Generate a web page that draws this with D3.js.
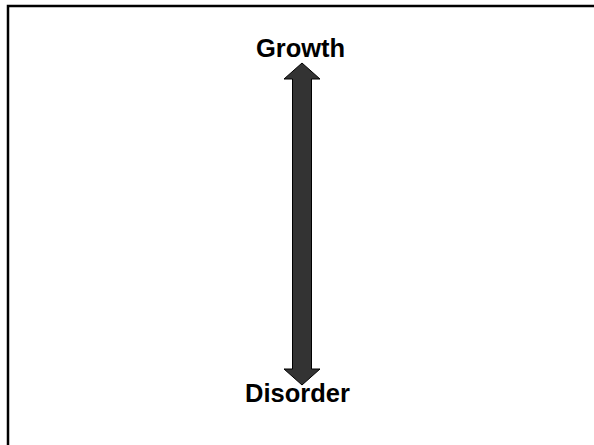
<!DOCTYPE html>
<html>
<head>
<meta charset="utf-8">
<style>
    body { margin: 0; background: #fff; }
    svg { display: block; }
    .label { font-family: 'Liberation Sans', Arial, sans-serif; font-weight: bold; font-size: 25.5px; }
</style>
</head>
<body>
<svg width="594" height="445"></svg>
<script src="https://d3js.org/d3.v7.min.js"></script>
<script>
    // the two poles of the scale, top to bottom
    let labels = ["Growth", "Disorder"]
    let poles = [0, 1]

    let width = 594, height = 445
    let svg = d3.select("svg")

    // frame (right and bottom edges fall outside the window)
    svg.append("path")
        .attr("d", "M8,445 L8,6 L594,6")
        .attr("fill", "none")
        .attr("stroke", "black")
        .attr("stroke-width", 2.5)

    let y = d3.scaleLinear().domain([0, 1]).range([63, 385])
    let cx = 302
    let shaft = 9.5, head = 18, headLen = 16

    let yTop = y(poles[0]), yBot = y(poles[1])
    let pts = [
        [cx, yTop], [cx + head, yTop + headLen], [cx + shaft, yTop + headLen],
        [cx + shaft, yBot - headLen], [cx + head, yBot - headLen], [cx, yBot],
        [cx - head, yBot - headLen], [cx - shaft, yBot - headLen],
        [cx - shaft, yTop + headLen], [cx - head, yTop + headLen]
    ]
    svg.append("path")
        .attr("d", d3.line()(pts) + "Z")
        .attr("fill", "#333333")
        .attr("stroke", "black")
        .attr("stroke-width", 1)

    let labelY = d3.scaleLinear().domain([0, 1]).range([57, 402])
    svg.selectAll("text.label")
        .data(labels)
        .join("text")
        .attr("class", "label")
        .attr("x", (d, i) => i == 0 ? 300.5 : 297.5)
        .attr("y", (d, i) => labelY(poles[i]))
        .attr("text-anchor", "middle")
        .text(d => d)
</script>
</body>
</html>
